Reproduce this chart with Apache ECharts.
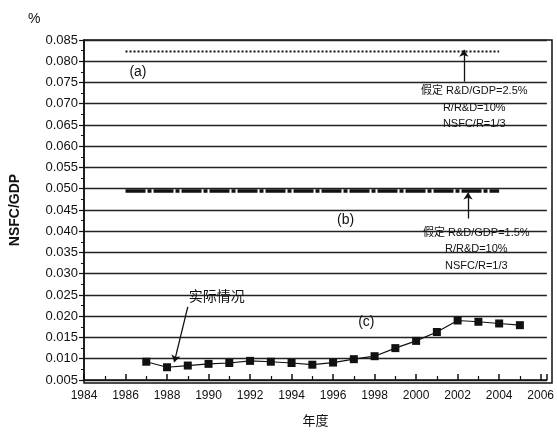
<!DOCTYPE html>
<html>
<head>
<meta charset="utf-8">
<script src="https://cdn.jsdelivr.net/npm/echarts@6/dist/echarts.min.js"></script>
<style>
  html, body { margin: 0; padding: 0; background: #fff; }
  #main { width: 557px; height: 432px; }
</style>
</head>
<body>
<div id="main"></div>
<script>
// actual NSFC/GDP (%) per year
const years = [1987, 1988, 1989, 1990, 1991, 1992, 1993, 1994, 1995, 1996,
  1997, 1998, 1999, 2000, 2001, 2002, 2003, 2004, 2005];
const actual = [0.0093, 0.0080, 0.0084, 0.0088, 0.0090, 0.0095, 0.0093, 0.0090, 0.0086, 0.0091,
  0.0099, 0.0106, 0.0125, 0.0142, 0.0163, 0.0190, 0.0187, 0.0183, 0.0179];

// assumed scenarios (a) R&D/GDP=2.5% and (b) R&D/GDP=1.5%
const scenYears = [1986, 1987, 1988, 1989, 1990, 1991, 1992, 1993, 1994, 1995,
  1996, 1997, 1998, 1999, 2000, 2001, 2002, 2003, 2004];
const scenA = [0.0823, 0.0823, 0.0823, 0.0823, 0.0823, 0.0823, 0.0823, 0.0823, 0.0823, 0.0823,
  0.0823, 0.0823, 0.0823, 0.0823, 0.0823, 0.0823, 0.0823, 0.0823, 0.0823];
const scenB = [0.0495, 0.0495, 0.0495, 0.0495, 0.0495, 0.0495, 0.0495, 0.0495, 0.0495, 0.0495,
  0.0495, 0.0495, 0.0495, 0.0495, 0.0495, 0.0495, 0.0495, 0.0495, 0.0495];

const textA = ['假定 R&D/GDP=2.5%', 'R/R&D=10%', 'NSFC/R=1/3'];
const textB = ['假定 R&D/GDP=1.5%', 'R/R&D=10%', 'NSFC/R=1/3'];

const font = 'Liberation Sans, Arial, Noto Sans CJK SC, sans-serif';

var myChart = echarts.init(document.getElementById('main'));

// annotation text placed in data coordinates
function note(x, y, text, size) {
  return {
    coord: [x, y], value: 0,
    symbol: 'circle', symbolSize: 1,
    itemStyle: { color: 'rgba(0,0,0,0)' },
    label: { show: true, position: 'inside', formatter: text, color: '#111',
      fontSize: size, fontFamily: font }
  };
}

var option = {
  animation: false,
  backgroundColor: '#fff',
  grid: { left: 84, right: 5, top: 40, bottom: 49 },
  graphic: [
    { type: 'text', left: 28, top: 12, style: { text: '%', font: '14px ' + font, fill: '#111' } },
    {
      // box border on top and right
      type: 'rect', silent: true, z: -1,
      shape: { x: 84, y: 40, width: 468, height: 343 },
      style: { fill: 'none', stroke: '#111', lineWidth: 1.5 }
    }
  ],
  xAxis: {
    type: 'value', min: 1984, max: 2006.3, interval: 2,
    name: '年度', nameLocation: 'middle', nameGap: 34,
    nameTextStyle: { fontSize: 13, color: '#111', fontFamily: 'Noto Sans CJK SC' },
    axisLine: { lineStyle: { color: '#111', width: 1.5 } },
    axisTick: { inside: true, length: 6, lineStyle: { color: '#111', width: 1.5 } },
    minorTick: { show: true, splitNumber: 2, length: 4, lineStyle: { color: '#111', width: 1.2 } },
    axisLabel: {
      color: '#111', fontSize: 12, fontFamily: font, margin: 10,
      formatter: v => (Math.abs(v - Math.round(v)) < 1e-6 ? String(Math.round(v)) : '')
    },
    splitLine: { show: false }
  },
  yAxis: {
    type: 'value', min: 0.005, max: 0.085, interval: 0.005,
    name: 'NSFC/GDP', nameLocation: 'middle', nameGap: 62,
    nameTextStyle: { fontSize: 14, fontWeight: 'bold', color: '#111', fontFamily: font },
    axisLine: { show: true, lineStyle: { color: '#111', width: 1.5 } },
    axisTick: { show: true, length: 5, lineStyle: { color: '#111', width: 1.2 } },
    minorTick: { show: true, splitNumber: 2, length: 3, lineStyle: { color: '#111', width: 1 } },
    axisLabel: { color: '#111', fontSize: 13, fontFamily: font, margin: 6,
      formatter: v => v.toFixed(3) },
    splitLine: { show: true, lineStyle: { color: '#222', width: 1.3 } }
  },
  series: [
    {
      type: 'line', name: 'a', data: scenYears.map((y, i) => [y, scenA[i]]),
      symbol: 'none', lineStyle: { color: '#111', width: 2, type: [2, 2] },
      markLine: {
        silent: true, symbol: ['none', 'arrow'], symbolSize: 7,
        lineStyle: { color: '#111', width: 1.3, type: 'solid' }, label: { show: false },
        data: [[{ coord: [2002.3, 0.0752] }, { coord: [2002.3, 0.0827] }]]
      },
      markPoint: {
        silent: true,
        data: [
          note(1986.6, 0.0775, '(a)', 14),
          note(2002.8, 0.0729, textA[0], 11),
          note(2002.8, 0.0690, textA[1], 11),
          note(2002.8, 0.0652, textA[2], 11)
        ]
      }
    },
    {
      type: 'line', name: 'b', data: scenYears.map((y, i) => [y, scenB[i]]),
      symbol: 'none', lineStyle: { color: '#111', width: 3.5, type: [20, 2, 4, 2] },
      markLine: {
        silent: true, symbol: ['none', 'arrow'], symbolSize: 7,
        lineStyle: { color: '#111', width: 1.3, type: 'solid' }, label: { show: false },
        data: [[{ coord: [2002.5, 0.0430] }, { coord: [2002.5, 0.0491] }]]
      },
      markPoint: {
        silent: true,
        data: [
          note(1996.6, 0.0426, '(b)', 14),
          note(2002.9, 0.0395, textB[0], 11),
          note(2002.9, 0.0358, textB[1], 11),
          note(2002.9, 0.0318, textB[2], 11)
        ]
      }
    },
    {
      type: 'line', name: 'c', data: years.map((y, i) => [y, actual[i]]),
      symbol: 'rect', symbolSize: 8,
      itemStyle: { color: '#111' }, lineStyle: { color: '#111', width: 1.2 },
      markLine: {
        silent: true, symbol: ['none', 'arrow'], symbolSize: 7,
        lineStyle: { color: '#111', width: 1.3, type: 'solid' }, label: { show: false },
        data: [[{ coord: [1989.0, 0.0222] }, { coord: [1988.35, 0.0092] }]]
      },
      markPoint: {
        silent: true,
        data: [
          note(1997.6, 0.0185, '(c)', 14),
          note(1990.4, 0.0244, '实际情况', 14)
        ]
      }
    }
  ]
};

option && myChart.setOption(option);
</script>
</body>
</html>
